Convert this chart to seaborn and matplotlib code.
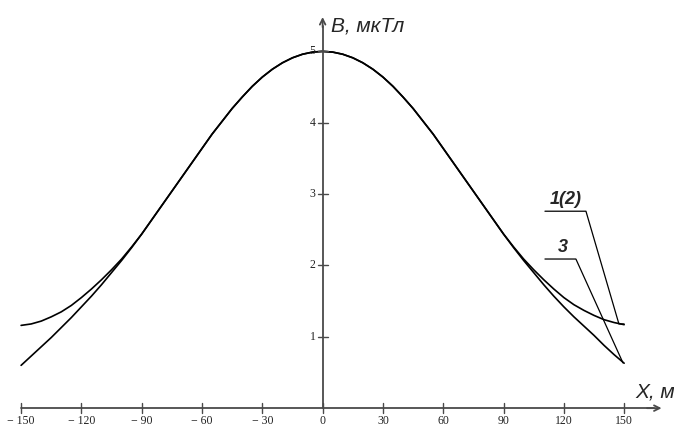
import matplotlib
matplotlib.use("Agg")
import matplotlib.pyplot as plt
import seaborn as sns
import pandas as pd

# distance from the line axis, m (right half; the left half mirrors it)
x_half = [0, 5, 10, 15, 20, 25, 30, 35, 40, 45, 50, 55, 60, 65, 70, 75,
          80, 85, 90, 95, 100, 105, 110, 115, 120, 125, 130, 135, 140, 145, 150]

# curve 1(2), right and left halves (left listed from 0 outward)
b_12_right = [5.00, 4.99, 4.96, 4.91, 4.84, 4.75, 4.64, 4.51, 4.36, 4.20, 4.02, 3.84, 3.64, 3.44,
              3.24, 3.04, 2.84, 2.64, 2.44, 2.26, 2.09, 1.94, 1.80, 1.67, 1.55, 1.45, 1.37, 1.30,
              1.24, 1.20, 1.17]
b_12_left = [5.00, 4.99, 4.96, 4.91, 4.84, 4.75, 4.64, 4.51, 4.36, 4.20, 4.02, 3.84, 3.64, 3.44,
             3.24, 3.04, 2.84, 2.64, 2.44, 2.26, 2.09, 1.94, 1.80, 1.67, 1.55, 1.44, 1.35, 1.28,
             1.22, 1.18, 1.16]

# curve 3
b_3_right = [5.00, 4.99, 4.96, 4.91, 4.84, 4.75, 4.64, 4.51, 4.36, 4.20, 4.02, 3.84, 3.64, 3.44,
             3.24, 3.04, 2.84, 2.64, 2.44, 2.25, 2.07, 1.90, 1.73, 1.57, 1.42, 1.28, 1.15, 1.02,
             0.88, 0.75, 0.63]
b_3_left = [5.00, 4.99, 4.96, 4.91, 4.84, 4.75, 4.64, 4.51, 4.36, 4.20, 4.02, 3.84, 3.64, 3.44,
            3.24, 3.04, 2.84, 2.64, 2.44, 2.25, 2.07, 1.90, 1.73, 1.57, 1.42, 1.27, 1.13, 0.99,
            0.86, 0.73, 0.60]

x_ticks = [-150, -120, -90, -60, -30, 0, 30, 60, 90, 120, 150]
y_ticks = [1, 2, 3, 4, 5]

x_m = [-v for v in x_half[:0:-1]] + x_half
b_12 = b_12_left[:0:-1] + b_12_right
b_3 = b_3_left[:0:-1] + b_3_right

df = pd.DataFrame({"x": x_m * 2,
                   "B": b_12 + b_3,
                   "curve": ["1(2)"] * len(x_m) + ["3"] * len(x_m)})

sns.set_style("white")
plt.rcParams["font.family"] = ["Liberation Sans", "DejaVu Sans"]

fig = plt.figure(figsize=(6.74, 4.26), dpi=100)
ax = fig.add_axes([0, 0, 1, 1])

sns.lineplot(data=df, x="x", y="B", units="curve", estimator=None,
             color="black", lw=1.2, ax=ax, legend=False)

ax.set_xlim(-160.5, 174.8)
ax.set_ylim(-0.25, 5.72)
ax.axis("off")

axis_col = "#4a4a4a"
# axes through the origin with arrows
ax.plot([-150, 165], [0, 0], color=axis_col, lw=1.3)
ax.annotate("", xy=(170, 0), xytext=(160, 0),
            arrowprops=dict(arrowstyle="->", color=axis_col, lw=1.3))
ax.plot([0, 0], [0, 5.35], color=axis_col, lw=1.3)
ax.annotate("", xy=(0, 5.52), xytext=(0, 5.3),
            arrowprops=dict(arrowstyle="->", color=axis_col, lw=1.3))

# tick crosses and labels
dx_tick = 2.5
dy_tick = 0.07
for t in x_ticks:
    ax.plot([t, t], [-dy_tick, dy_tick], color=axis_col, lw=1.0)
    lab = str(t).replace("-", "\u2212 ")
    ax.text(t, -0.1, lab, ha="center", va="top", fontsize=8.5,
            family=["Liberation Serif", "DejaVu Serif"], color="#222222")
for t in y_ticks:
    ax.plot([-dx_tick, dx_tick], [t, t], color=axis_col, lw=1.0)
    ax.text(-3.5, t, str(t), ha="right", va="center", fontsize=8.5,
            family=["Liberation Serif", "DejaVu Serif"], color="#222222")

ax.text(4.0, 5.36, "B, мкТл", fontsize=15, style="italic", ha="left", va="center")
ax.text(155.5, 0.23, "X, м", fontsize=15, style="italic", ha="left", va="center")

# curve labels with leaders
ax.plot([110.6, 131.0, 147.4, 150.0], [2.76, 2.76, 1.18, 1.18], color="black", lw=0.9)
ax.text(121.0, 2.80, "1(2)", fontsize=13, style="italic", weight="bold",
        ha="center", va="bottom")
ax.plot([110.6, 126.0, 149.4], [2.09, 2.09, 0.635], color="black", lw=0.9)
ax.text(119.5, 2.13, "3", fontsize=13, style="italic", weight="bold",
        ha="center", va="bottom")

fig.savefig("out.png", dpi=100)
